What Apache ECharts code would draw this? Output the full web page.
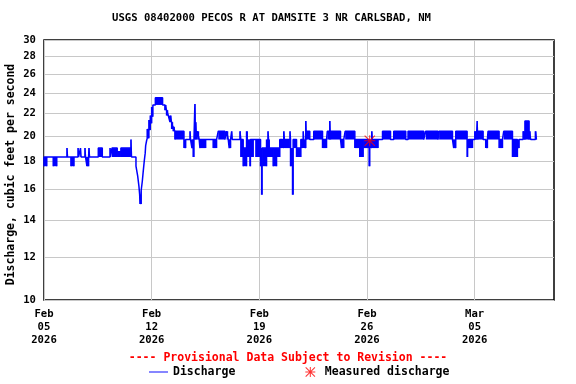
<!DOCTYPE html>
<html><head><meta charset="utf-8">
<script src="https://cdn.jsdelivr.net/npm/echarts@6/dist/echarts.min.js"></script>
<style>html,body{margin:0;padding:0;background:#fff}#c{width:576px;height:384px}</style>
</head><body><div id="c"></div>
<script>
const chartTitle = 'USGS 08402000 PECOS R AT DAMSITE 3 NR CARLSBAD, NM';
const provisionalNote = '---- Provisional Data Subject to Revision ----';
const yAxisName = 'Discharge, cubic feet per second';
const startDateUTC = Date.UTC(2026, 1, 5);   // day 0 = Feb 05 2026
const xMaxDay = 33.16;
const xTickDays = [0, 7, 14, 21, 28];
const yTickValues = [10, 12, 14, 16, 18, 20, 22, 24, 26, 28, 30];
const monthNames = ['Jan','Feb','Mar','Apr','May','Jun','Jul','Aug','Sep','Oct','Nov','Dec'];

// Discharge record, read as runs: [start day, end day] with the low / high value reached in each run
// (low == high: steady level; low < high: the gauge flickers between the two levels)
const segStart = [0.00,0.18,0.60,0.83,1.49,1.53,1.75,1.95,2.21,2.25,2.37,2.41,2.66,2.70,2.79,2.90,2.92,2.96,3.53,3.79,4.29,4.33,4.42,4.76,5.00,5.65,5.69,
  5.98,6.09,6.17,6.22,6.24,6.32,6.39,6.45,6.52,6.58,6.61,6.67,6.71,6.82,6.91,7.00,7.08,7.24,7.71,7.86,7.97,8.08,8.19,8.30,8.40,8.51,9.10,9.21,9.49,9.53,9.62,9.70,9.75,9.81,9.85,9.92,9.96,
  10.09,10.14,10.51,11.00,11.22,11.33,11.76,11.87,11.98,12.04,12.13,12.20,12.24,12.74,12.80,12.95,13.17,13.26,13.39,13.42,13.60,13.78,14.08,14.15,14.18,14.47,14.56,14.60,14.69,14.90,15.12,15.33,15.51,15.59,15.63,15.99,
  16.03,16.16,16.20,16.42,16.70,16.85,16.89,17.02,17.06,17.28,17.54,18.11,18.37,18.42,18.58,18.62,19.28,19.34,19.49,19.58,20.21,20.53,20.75,21.14,21.18,21.31,21.35,21.72,22.01,22.53,22.74,23.52,23.67,24.69,24.82,25.62,25.69,
  26.56,26.64,26.77,27.51,27.54,27.60,27.86,28.01,28.12,28.16,28.20,28.55,28.72,28.83,28.87,29.59,29.81,29.89,30.46,30.78,30.89,31.15,31.27,31.54,31.65,31.95];
const segEnd = [0.18,0.60,0.83,1.49,1.53,1.75,1.95,2.21,2.25,2.37,2.41,2.66,2.70,2.79,2.90,2.92,2.96,3.53,3.79,4.29,4.33,4.42,4.76,5.00,5.65,5.69,5.98,
  6.09,6.17,6.22,6.24,6.32,6.39,6.45,6.52,6.58,6.61,6.67,6.71,6.82,6.91,7.00,7.08,7.24,7.71,7.86,7.97,8.08,8.19,8.30,8.40,8.51,9.10,9.21,9.49,9.53,9.62,9.70,9.75,9.81,9.85,9.92,9.96,10.09,
  10.14,10.51,11.00,11.22,11.33,11.76,11.87,11.98,12.04,12.13,12.20,12.24,12.74,12.80,12.95,13.17,13.26,13.39,13.42,13.60,13.78,14.08,14.15,14.18,14.47,14.56,14.60,14.69,14.90,15.12,15.33,15.51,15.59,15.63,15.99,16.03,
  16.16,16.20,16.42,16.70,16.85,16.89,17.02,17.06,17.28,17.54,18.11,18.37,18.42,18.58,18.62,19.28,19.34,19.49,19.58,20.21,20.53,20.75,21.14,21.18,21.31,21.35,21.72,22.01,22.53,22.74,23.52,23.67,24.69,24.82,25.62,25.69,26.56,
  26.64,26.77,27.51,27.54,27.60,27.86,28.01,28.12,28.16,28.20,28.55,28.72,28.83,28.87,29.59,29.81,29.89,30.46,30.78,30.89,31.15,31.27,31.54,31.65,31.95,32.02];
const segLow = [17.6,18.3,17.6,18.3,18.3,18.3,17.6,18.3,18.3,18.3,18.3,18.3,18.3,18.3,17.6,18.3,18.3,18.3,18.3,18.3,18.3,18.3,18.3,18.3,18.3,18.3,18.3,
  17.6,16.9,16.2,15.6,15.0,15.9,16.5,17.2,18.0,18.6,19.2,19.6,19.8,20.5,21.1,21.7,22.8,22.8,22.8,22.3,21.8,21.8,21.2,20.6,20.4,19.7,19.0,19.7,19.7,19.7,19.0,18.3,19.7,19.7,19.7,19.7,19.7,
  19.7,19.0,19.7,19.0,19.7,19.7,19.7,19.7,19.7,19.0,19.7,19.7,19.7,19.7,18.3,17.6,19.0,18.3,17.6,18.3,19.7,18.3,17.6,15.6,17.6,18.3,19.7,18.3,18.3,17.6,18.3,19.0,19.0,19.7,19.0,19.7,
  17.6,15.6,19.0,18.3,19.0,19.7,19.0,19.7,19.7,19.7,19.7,19.0,19.7,19.7,19.7,19.7,19.7,19.0,19.7,19.7,19.0,18.3,19.0,17.6,19.0,19.7,19.0,19.7,19.7,19.7,19.7,19.7,19.7,19.7,19.7,19.7,19.7,
  19.7,19.0,19.7,18.3,19.7,19.0,19.7,19.7,19.7,19.7,19.7,19.7,19.0,19.7,19.7,19.0,19.7,19.7,18.3,19.0,19.7,19.7,19.7,19.7,19.7,19.7];
const segHigh = [18.3,18.3,18.3,18.3,19.0,18.3,18.3,18.3,19.0,18.3,19.0,18.3,19.0,18.3,18.3,18.3,19.0,18.3,19.0,18.3,19.0,18.3,19.0,18.7,19.0,19.7,18.3,
  17.6,16.9,16.2,15.6,15.6,15.9,16.5,17.2,18.0,18.6,19.2,19.6,20.6,21.4,21.8,22.6,22.8,23.5,22.8,22.8,22.3,21.8,21.8,21.2,20.8,20.4,19.7,19.7,20.4,19.7,19.7,19.7,19.7,22.9,21.2,19.7,20.4,
  19.7,19.7,19.7,19.7,19.7,20.4,19.7,20.4,19.7,19.7,19.7,20.4,19.7,20.4,19.7,19.0,20.4,19.7,19.7,19.7,19.7,19.7,19.0,19.0,19.0,19.7,20.4,19.7,19.0,19.0,19.0,19.7,19.7,20.4,19.7,20.4,
  19.0,19.0,19.7,19.0,19.7,20.4,19.7,21.3,20.4,19.7,20.4,19.7,19.7,20.4,21.3,20.4,19.7,19.7,19.7,20.4,19.7,19.7,19.7,19.0,19.7,20.4,19.7,19.7,20.4,19.7,20.4,19.7,20.4,19.7,20.4,19.7,20.4,
  19.7,19.7,20.4,19.7,19.7,19.7,19.7,20.4,19.7,21.3,20.4,19.7,19.7,19.7,20.4,19.7,19.7,20.4,19.7,19.7,19.7,20.4,21.3,20.4,19.7,20.4];

// Field measurement
const measuredDay = [21.18];
const measuredValue = [19.6];

const lg = v => Math.log10(v);
const fontMono = 'DejaVu Sans Mono';
const asteriskPath = 'path://M0,4.5H10V5.5H0Z M4.5,0H5.5V10H4.5Z M0.7,0L10,9.3L9.3,10L0,0.7Z M9.3,0L10,0.7L0.7,10L0,9.3Z';
const lineIconPath = 'path://M0,0H20V1H0Z';

const linePts = [];
const blocks = [];
for (let i = 0; i < segStart.length; i++) {
  const s = segStart[i], e = segEnd[i], lo = segLow[i], hi = segHigh[i];
  linePts.push([s, lg(lo)], [s, lg(hi)], [e, lg(hi)], [e, lg(lo)]);
  if (hi > lo) blocks.push([s, e, lg(lo), lg(hi)]);
}
const measuredPts = measuredDay.map((d, i) => [d, lg(measuredValue[i])]);

const chart = echarts.init(document.getElementById('c'), null, { renderer: 'canvas' });
chart.setOption({
  animation: false,
  backgroundColor: '#fff',
  title: [
    { text: chartTitle, left: 112, top: 13, padding: 0,
      textStyle: { fontFamily: fontMono, fontWeight: 'bold', fontSize: 10.6, color: '#000' } },
    { text: provisionalNote, left: 'center', top: 352, padding: 0,
      textStyle: { fontFamily: fontMono, fontWeight: 'bold', fontSize: 11.5, color: '#ff0000' } }
  ],
  legend: {
    left: 149, top: 366, padding: 0, itemWidth: 19, itemHeight: 10, itemGap: 70,
    textStyle: { fontFamily: fontMono, fontWeight: 'bold', fontSize: 11.5, color: '#000' },
    data: [
      { name: 'Discharge', icon: lineIconPath },
      { name: 'Measured discharge', icon: asteriskPath }
    ]
  },
  grid: { left: 44, right: 22, top: 40, bottom: 84, outerBoundsMode: 'none', containLabel: false,
    show: true, borderColor: '#000', borderWidth: 1.5, backgroundColor: 'transparent' },
  xAxis: {
    type: 'value', min: 0, max: xMaxDay,
    axisLine: { show: false },
    axisTick: { show: false, customValues: xTickDays },
    splitLine: { show: true, lineStyle: { color: '#c8c8c8', width: 1 } },
    axisLabel: {
      customValues: xTickDays, margin: 8, lineHeight: 13,
      fontFamily: fontMono, fontWeight: 'bold', fontSize: 10.6, color: '#000',
      formatter: v => {
        const d = new Date(startDateUTC + Math.round(v) * 86400000);
        return monthNames[d.getUTCMonth()] + '\n' + String(d.getUTCDate()).padStart(2, '0') + '\n' + d.getUTCFullYear();
      }
    }
  },
  yAxis: {
    type: 'value', min: lg(10), max: lg(30),
    name: yAxisName, nameLocation: 'middle', nameGap: 27, nameMoveOverlap: false,
    nameTextStyle: { fontFamily: fontMono, fontWeight: 'bold', fontSize: 11.5, color: '#000', padding: [0, 9, 0, 0] },
    axisLine: { show: false },
    axisTick: { show: false, customValues: yTickValues.map(lg) },
    splitLine: { show: true, lineStyle: { color: '#c8c8c8', width: 1 } },
    axisLabel: {
      customValues: yTickValues.map(lg), margin: 8,
      fontFamily: fontMono, fontWeight: 'bold', fontSize: 10.6, color: '#000',
      formatter: v => String(Math.round(Math.pow(10, v)))
    }
  },
  series: [
    { type: 'custom', name: 'blocks', silent: true, clip: true,
      encode: { x: [0, 1], y: [2, 3] }, data: blocks,
      renderItem: (params, api) => {
        const p0 = api.coord([api.value(0), api.value(3)]);
        const p1 = api.coord([api.value(1), api.value(2)]);
        return { type: 'rect', shape: { x: p0[0], y: p0[1], width: Math.max(p1[0] - p0[0], 0.6), height: p1[1] - p0[1] },
          style: { fill: '#0000ff' } };
      }
    },
    { type: 'line', name: 'Discharge', data: linePts, symbol: 'none', silent: true,
      lineStyle: { color: '#0000ff', width: 1.5 }, itemStyle: { color: '#0000ff' } },
    { type: 'scatter', name: 'Measured discharge', data: measuredPts, symbol: asteriskPath, symbolSize: 11,
      itemStyle: { color: '#ff0000' }, z: 5 }
  ]
});
</script>
</body></html>
